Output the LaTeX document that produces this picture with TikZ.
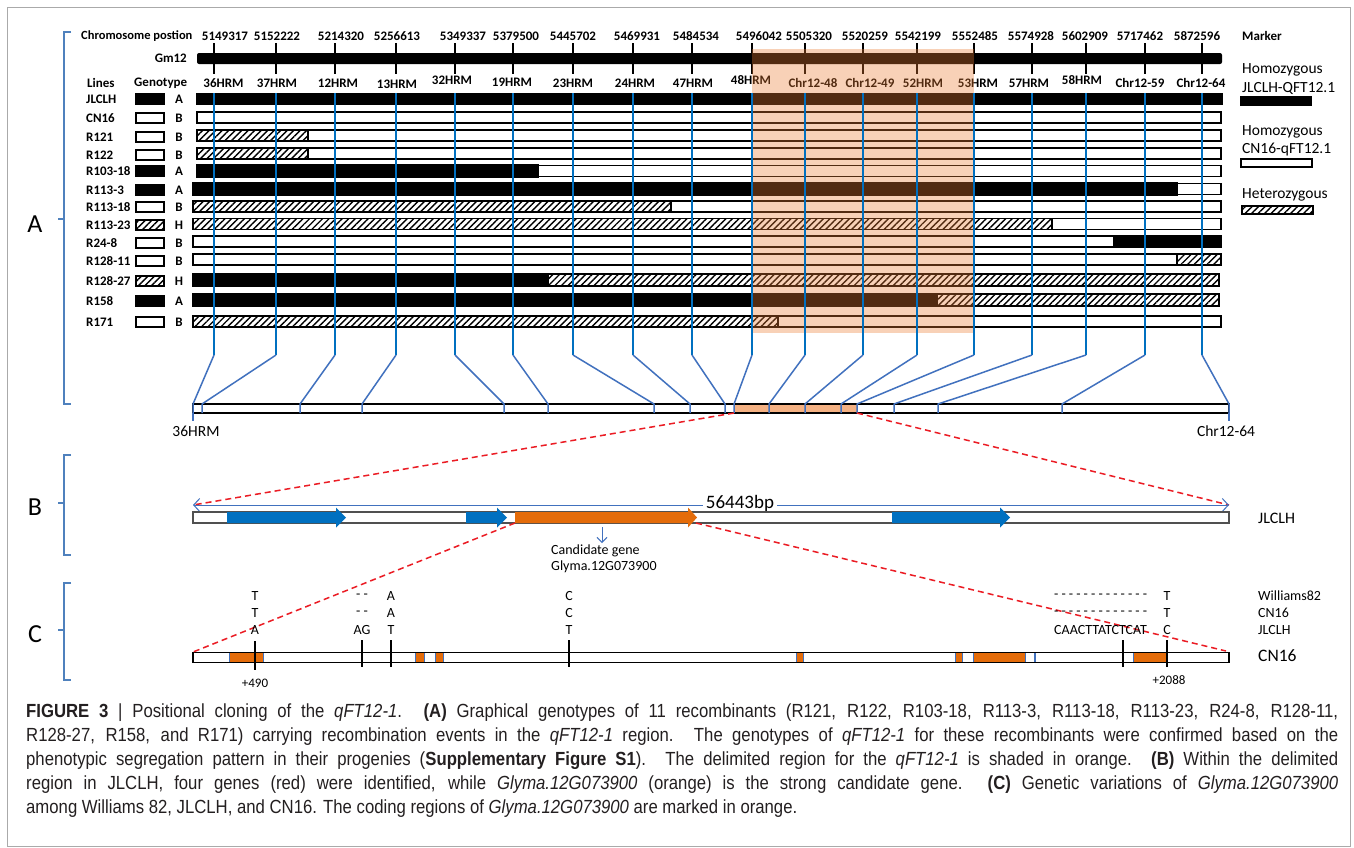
\documentclass[tikz,border=0pt]{standalone}
\usepackage{fontspec}
\setmainfont{Carlito}
\newfontfamily\capfont[FakeStretch=0.88]{Liberation Sans}
\usetikzlibrary{patterns.meta,arrows.meta}
\definecolor{mblue}{RGB}{0,112,192}
\definecolor{sblue}{RGB}{65,113,190}
\definecolor{brblue}{RGB}{79,129,189}
\definecolor{gorange}{RGB}{228,108,10}
\definecolor{shadeor}{RGB}{237,125,49}
\definecolor{lorange}{RGB}{244,177,131}
\definecolor{framegray}{RGB}{170,170,170}
\definecolor{redd}{RGB}{235,28,36}
\definecolor{dgray}{RGB}{80,80,80}
\definecolor{captxt}{RGB}{35,31,32}
\newcommand\hy{-\kern3.1pt}
\tikzset{
  hdr/.style={font=\bfseries\fontsize{13}{15}\selectfont, inner sep=0pt},
  leg/.style={font=\fontsize{15.5}{17}\selectfont, inner sep=0pt, anchor=west},
  smalltxt/.style={font=\fontsize{14}{16}\selectfont, inner sep=0pt},
  sect/.style={font=\fontsize{26}{28}\selectfont, inner sep=0pt},
  gbar/.style={draw=black, line width=1.1pt, fill=white},
  gblk/.style={draw=black, line width=1.1pt, fill=black},
  ghat/.style={draw=black, line width=1.1pt, pattern={Lines[angle=45,distance=4.6pt,line width=1.4pt]}},
  brk/.style={draw=brblue, line width=1.1pt},
  mline/.style={draw=mblue, line width=1.7pt},
  dline/.style={draw=sblue, line width=1.5pt},
  reddash/.style={draw=redd, line width=1.5pt, dash pattern=on 6pt off 4pt},
  exon/.style={fill=gorange, draw=sblue, line width=0.6pt},
  captext/.style={font=\capfont\fontsize{19}{22}\selectfont, inner sep=0pt, anchor=west, text=captxt},
}
\begin{document}
\begin{tikzpicture}[x=1pt,y=-1pt]
\useasboundingbox (0,0) rectangle (1354,847);
\fill[white] (0,0) rectangle (1354,847);
\draw[framegray, line width=1pt] (7,7) rectangle (1350,846);

% ---------- section brackets ----------
\draw[brk] (71,32) -- (64,32) -- (64,404) -- (71,404);
\draw[brk] (64,219) -- (58,219);
\node[sect] (labA) at (35,224) {A};
\draw[brk] (71,455) -- (64,455) -- (64,555) -- (71,555);
\draw[brk] (64,503) -- (58,503);
\node[sect] (labB) at (35,507) {B};
\draw[brk] (71,583) -- (64,583) -- (64,680) -- (71,680);
\draw[brk] (64,630) -- (58,630);
\node[sect] (labC) at (35,634) {C};

% ---------- header ----------
\node[hdr, anchor=west, font=\bfseries\fontsize{12.5}{14}\selectfont] (chrpos) at (81,36) {Chromosome postion};
\foreach \p/\x in {5149317/225, 5152222/277, 5214320/341, 5256613/397, 5349337/463, 5379500/516, 5445702/573, 5469931/637, 5484534/696, 5496042/759, 5505320/809, 5520259/865, 5542199/918, 5552485/975, 5574928/1031, 5602909/1085, 5717462/1140, 5872596/1197}
  \node[hdr] at (\x,36) {\p};
\node[hdr, anchor=west] (marker) at (1242,36) {Marker};
\node[hdr, anchor=east] (gm12) at (187,58) {Gm12};
\fill[black, rounded corners=2pt] (197,53) rectangle (1222,64);
\foreach \x in {214,276,335,396,455,513,573,633,692,752,805,863,917,974,1032,1086,1145,1202}
  \draw[black, line width=1.5pt] (\x,43) -- (\x,74);

\node[hdr, anchor=west] (lines) at (87,83) {Lines};
\node[hdr, anchor=west] (genotype) at (134,83) {Genotype};
\foreach \n/\x/\y in {36HRM/223.5/83, 37HRM/277/83, 12HRM/338/83, 13HRM/397/84, 32HRM/452/80, 19HRM/512/82, 23HRM/573/83, 24HRM/635/83, 47HRM/693/83, 48HRM/751/80, Chr12-48/813/83, Chr12-49/870/83, 52HRM/923/83, 53HRM/978/83, 57HRM/1029/83, 58HRM/1082/80, Chr12-59/1140/83, Chr12-64/1201/83}
  \node[hdr] at (\x,\y) {\n};

% ---------- row labels and genotype boxes ----------
\foreach \n/\y/\s/\g in {JLCLH/99/gblk/A, CN16/118/gbar/B, R121/137/gbar/B, R122/155/gbar/B, R103-18/171/gblk/A, R113-3/190/gblk/A, R113-18/207/gbar/B, R113-23/225/ghat/H, R24-8/243/gbar/B, R128-11/261/gbar/B, R128-27/281/ghat/H, R158/301/gblk/A, R171/322/gbar/B}
{
  \node[hdr, anchor=west] at (86,\y) {\n};
  \path[\s] (136,\y-5) rectangle (164,\y+5);
  \node[hdr] at (179,\y) {\g};
}

% ---------- genotype bars ----------
\path[gblk] (197,94) rectangle (1222,104.5);
\path[gbar] (197,112) rectangle (1221,123);
\path[gbar] (308,130) rectangle (1221,141);
\path[ghat] (197,130) rectangle (308,141);
\path[gbar] (308,148) rectangle (1221,159);
\path[ghat] (197,148) rectangle (308,159);
\path[gbar] (538,165.5) rectangle (1221,176.5);
\path[gblk] (197,165) rectangle (538,177);
\path[gbar] (1177,183.5) rectangle (1221,194.5);
\path[gblk] (193,183) rectangle (1177,195);
\path[gbar] (671,201) rectangle (1221,212);
\path[ghat] (193,201) rectangle (671,212);
\path[gbar] (1052,218.5) rectangle (1221,229.5);
\path[ghat] (193,218.5) rectangle (1052,229.5);
\path[gbar] (193,236) rectangle (1114,247);
\path[gblk] (1114,235.5) rectangle (1221,247.5);
\path[gbar] (193,254) rectangle (1177,265);
\path[ghat] (1177,254) rectangle (1221,265);
\path[ghat] (548,274) rectangle (1219,286);
\path[gblk] (193,273.5) rectangle (548,286.5);
\path[ghat] (937,294) rectangle (1219,306);
\path[gblk] (193,293.5) rectangle (937,306.5);
\path[gbar] (778,316) rectangle (1221,327);
\path[ghat] (193,316) rectangle (778,327);

% ---------- legend ----------
\node[leg] (lg1) at (1242,70) {Homozygous};
\node[leg] (lg2) at (1242,88) {JLCLH-QFT12.1};
\path[gblk] (1241,97) rectangle (1311,105);
\node[leg] (lg3) at (1242,132) {Homozygous};
\node[leg] (lg4) at (1242,150) {CN16-qFT12.1};
\path[gbar] (1241,159) rectangle (1312,167);
\node[leg] (lg5) at (1242,195) {Heterozygous};
\path[ghat] (1242,206) rectangle (1313,214);

% ---------- delimited region shading ----------
\fill[shadeor, opacity=0.35] (752,49) rectangle (974,333);

% ---------- lower physical bar ----------
\path[draw=black, line width=1.1pt, fill=white] (193,404) rectangle (1229,413);
\fill[lorange] (734,404) rectangle (857,413);
\draw[black, line width=1.1pt] (193,404) rectangle (1229,413);

\foreach \i/\m/\d in {1/214/193, 2/276/202, 3/335/300, 4/396/362, 5/455/504, 6/513/548, 7/573/654, 8/633/690, 9/692/725, 10/752/734, 11/805/769, 12/863/805, 13/917/841, 14/974/857, 15/1032/894, 16/1086/938, 17/1145/1062, 18/1202/1229}
{
  \coordinate (t\i) at (\m,93);
  \coordinate (k\i) at (\m,355);
  \coordinate (b\i) at (\d,404);
  \coordinate (bb\i) at (\d,413);
  \draw[mline] (t\i) -- (k\i);
  \draw[dline, line join=round] (k\i) -- (b\i) -- (bb\i);
}
\coordinate (e1) at (193,421);
\coordinate (e18) at (1229,421);
\draw[dline] (bb1) -- (e1);
\draw[dline] (bb18) -- (e18);
\node[leg, anchor=center] (bl1) at (196,431) {36HRM};
\node[leg, anchor=center] (bl2) at (1226,431) {Chr12-64};

% ---------- section B ----------
\coordinate (rL) at (193,505);
\coordinate (rR) at (1229,505);
\draw[reddash] (bb10) -- (rL);
\draw[reddash] (bb14) -- (rR);
\draw[sblue, line width=1pt, {Straight Barb[length=6pt,width=13pt]}-{Straight Barb[length=6pt,width=13pt]}] (rL) -- (rR);
\node[fill=white, inner sep=3pt, font=\fontsize{19}{21}\selectfont] (bp) at (740,503) {56443bp};
\draw[dgray, line width=1.6pt, fill=white] (193,512) rectangle (1229,523);
\fill[mblue] (227,512) -- (336,512) -- (336,507.5) -- (346,517.5) -- (336,527.5) -- (336,523) -- (227,523) -- cycle;
\fill[mblue] (466,512) -- (497,512) -- (497,507.5) -- (507,517.5) -- (497,527.5) -- (497,523) -- (466,523) -- cycle;
\fill[gorange] (515,512) -- (688,512) -- (688,507.5) -- (697,517.5) -- (688,527.5) -- (688,523) -- (515,523) -- cycle;
\fill[mblue] (892,512) -- (1000,512) -- (1000,507.5) -- (1010,517.5) -- (1000,527.5) -- (1000,523) -- (892,523) -- cycle;
\node[leg, font=\fontsize{16}{18}\selectfont] (jl) at (1258,518) {JLCLH};
\coordinate (ca1) at (602,527);
\coordinate (ca2) at (602,543);
\draw[sblue, line width=1pt, -{Straight Barb[length=5pt,width=10pt]}] (ca1) -- (ca2);
\node[smalltxt, anchor=west] (cg1) at (551,551) {Candidate gene};
\node[smalltxt, anchor=west] (cg2) at (551,567) {Glyma.12G073900};

% ---------- section C ----------
\coordinate (gL) at (515,523);
\coordinate (gR) at (696,523);
\coordinate (cL) at (193,652);
\coordinate (cR) at (1226,651);
\draw[black, line width=1.1pt, fill=white] (193,652.5) rectangle (1229,662.5);
\foreach \a/\b in {229/263, 415/424, 435/443, 796/803, 955/962, 973/1025, 1034.5/1035.5, 1133/1167}
  \path[exon] (\a,652.5) rectangle (\b,662.5);
\draw[black, line width=1.1pt] (193,652.5) rectangle (1229,662.5);
\draw[black, line width=1.3pt] (255,641) -- (255,670);
\foreach \x in {362,391,569,1123,1167}
  \draw[black, line width=1.3pt] (\x,640) -- (\x,667);
\draw[reddash] (gL) -- (cL);
\draw[reddash] (gR) -- (cR);

\foreach \x/\a/\b/\c in {255/T/T/A, 362/{- -}/{- -}/AG, 391/A/A/T, 569/C/C/T, 1167/T/T/C}
{
  \node[smalltxt] at (\x,596) {\a};
  \node[smalltxt] at (\x,613) {\b};
  \node[smalltxt] at (\x,630) {\c};
}
\node[smalltxt, anchor=west] (d1) at (1054,596) {\hy\hy\hy\hy\hy\hy\hy\hy\hy\hy\hy\hy-};
\node[smalltxt, anchor=west] (d2) at (1054,613) {\hy\hy\hy\hy\hy\hy\hy\hy\hy\hy\hy\hy-};
\node[smalltxt, anchor=west] (d3) at (1054,630) {CAACTTATCTCAT};
\node[smalltxt, anchor=west] (w82) at (1258,596) {Williams82};
\node[smalltxt, anchor=west] (wcn) at (1258,613) {CN16};
\node[smalltxt, anchor=west] (wjl) at (1258,630) {JLCLH};
\node[leg, font=\fontsize{17.5}{19}\selectfont] (cn16big) at (1258,656) {CN16};
\node[smalltxt, font=\fontsize{13}{15}\selectfont] (p490) at (255,683) {+490};
\node[smalltxt, font=\fontsize{13}{15}\selectfont] (p2088) at (1169,680) {+2088};

% ---------- caption ----------
\node[captext] (c1) at (26,713) {\makebox[1312pt][s]{\textbf{FIGURE 3} | Positional cloning of the \textit{qFT12-1}. \textbf{(A)} Graphical genotypes of 11 recombinants (R121, R122, R103-18, R113-3, R113-18, R113-23, R24-8, R128-11,}};
\node[captext] (c2) at (26,737) {\makebox[1312pt][s]{R128-27, R158, and R171) carrying recombination events in the \textit{qFT12-1} region. The genotypes of \textit{qFT12-1} for these recombinants were confirmed based on the}};
\node[captext] (c3) at (26,761) {\makebox[1312pt][s]{phenotypic segregation pattern in their progenies (\textbf{Supplementary Figure S1}). The delimited region for the \textit{qFT12-1} is shaded in orange. \textbf{(B)} Within the delimited}};
\node[captext] (c4) at (26,785) {\makebox[1312pt][s]{region in JLCLH, four genes (red) were identified, while \textit{Glyma.12G073900} (orange) is the strong candidate gene. \textbf{(C)} Genetic variations of \textit{Glyma.12G073900}}};
\node[captext] (c5) at (26,809) {among Williams 82, JLCLH, and CN16. The coding regions of \textit{Glyma.12G073900} are marked in orange.};
\end{tikzpicture}
\end{document}
